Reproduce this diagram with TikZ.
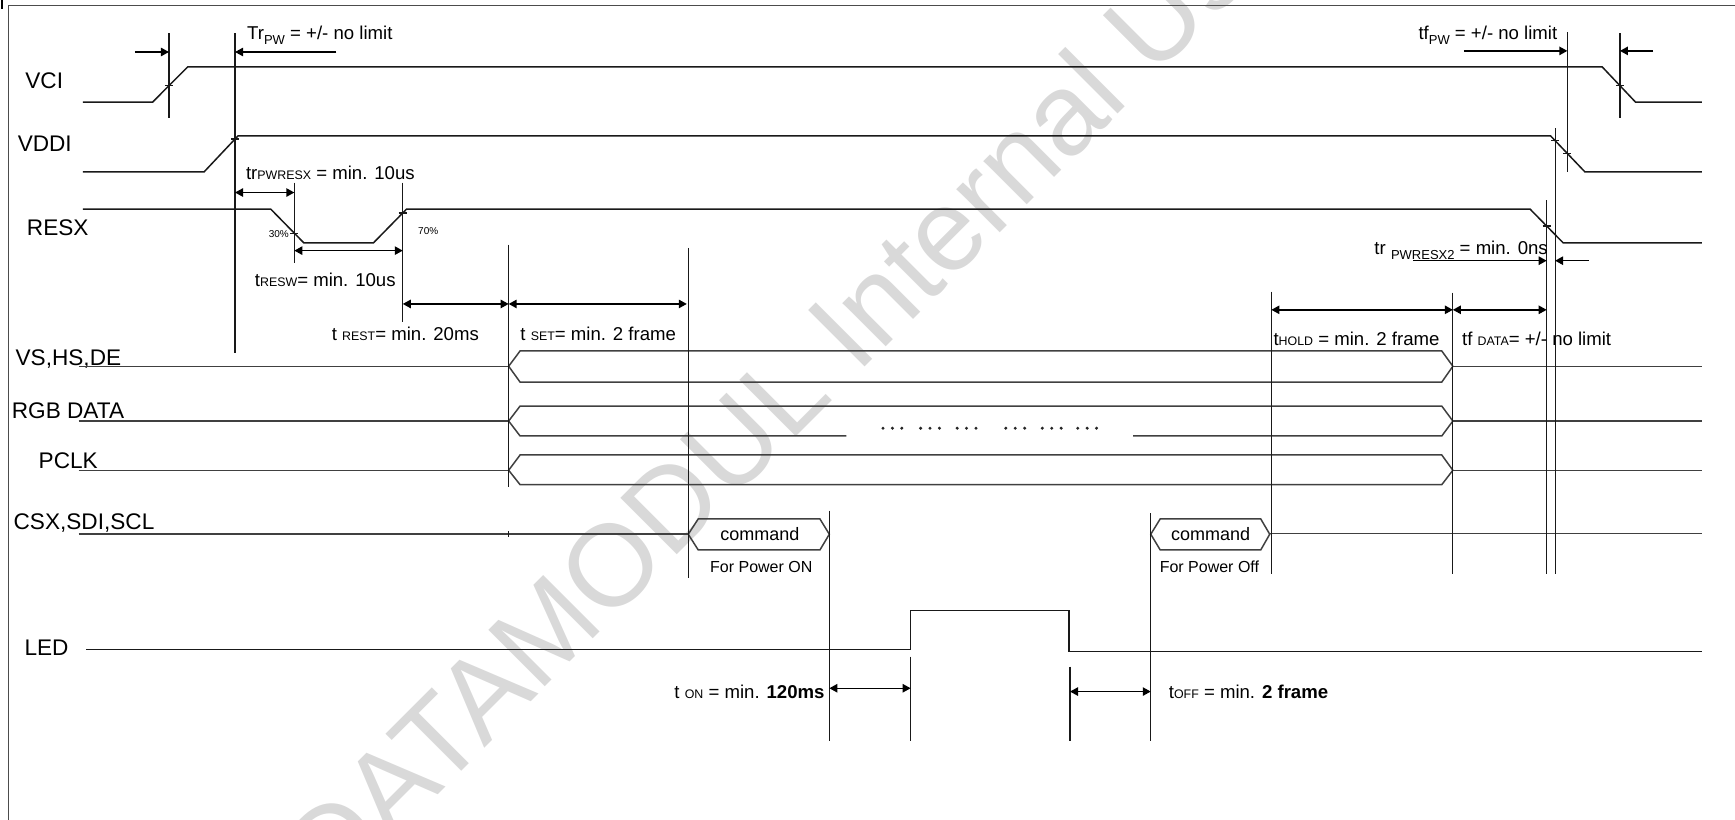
\documentclass[tikz,border=0pt]{standalone}
\usepackage{fontspec}
\setmainfont{Liberation Sans}
\usetikzlibrary{arrows.meta}
\newcommand\smu[1]{{\fontsize{6.2}{6.2}\selectfont #1}}
\newcommand\lsub[1]{\raisebox{-0.5ex}{\fontsize{6.5}{6.5}\selectfont #1}}
\begin{document}
\begin{tikzpicture}[x=0.5533pt,y=-0.5533pt,
  wave/.style={line width=0.75pt, black!90, line join=miter},
  busl/.style={line width=0.75pt, black!75},
  vln/.style={line width=0.6pt, black!90},
  tk/.style={line width=0.6pt, black!90},
  dimarr/.style={line width=0.7pt, {Triangle[length=4pt,width=4.2pt]}-{Triangle[length=4pt,width=4.2pt]}},
  onearr/.style={line width=0.7pt, -{Triangle[length=4pt,width=4.2pt]}},
  lbl/.style={font=\fontsize{11.3}{13}\selectfont, anchor=base west, inner sep=0pt},
  ann/.style={font=\fontsize{9.3}{11}\selectfont, anchor=base west, inner sep=0pt},
  anr/.style={font=\fontsize{9.3}{11}\selectfont, anchor=base east, inner sep=0pt},
  pct/.style={font=\fontsize{5}{5}\selectfont, inner sep=0pt},
  cmd/.style={font=\fontsize{9}{10}\selectfont, inner sep=0pt},
  cmdsub/.style={font=\fontsize{8}{9}\selectfont, inner sep=0pt},
  dotm/.style={fill=black!85, draw=none},
]
\useasboundingbox (0,0) rectangle (1568,741);
% watermark
\node[rotate=45, font=\fontsize{58}{58}\selectfont, text=black!15, inner sep=0pt] (wm) at (711,350) {DATAMODUL Internal Use};
% frame
\draw[line width=0.7pt, black!70] (7.5,741) -- (7.5,5.1) -- (1568,5.1);
\draw[line width=1pt] (1.5,0) -- (1.5,8);

% signal labels
\node[lbl] (lvci) at (22.6,80.3) {VCI};
\node[lbl] (lvddi) at (15.7,136.8) {VDDI};
\node[lbl] (lresx) at (24,213.1) {RESX};
\node[lbl] (lvs) at (13.8,330.3) {VS,HS,DE};
\node[lbl] (lrgb) at (10.4,378.3) {RGB DATA};
\node[lbl] (lpclk) at (34.6,423) {PCLK};
\node[lbl] (lcsx) at (12,478.2) {CSX,SDI,SCL};
\node[lbl] (lled) at (21.8,592.3) {LED};

% waveforms
\draw[wave] (75,92.2) -- (138,92.2) -- (169.6,60.5) -- (1448,60.5) -- (1478,92.2) -- (1538,92.2);
\draw[wave] (75,155.4) -- (184.4,155.4) -- (215,122.9) -- (1401.4,122.9) -- (1432.4,155.4) -- (1538,155.4);
\draw[wave] (75,188.9) -- (244.6,188.9) -- (274.7,219.6) -- (337.4,219.6) -- (367.5,188.9) -- (1382.7,188.9) -- (1412.8,219.6) -- (1538,219.6);

% buses
\draw[busl] (71,331) -- (459.7,331);
\draw[busl] (459.7,331) -- (470,317.2) -- (1303,317.2) -- (1313,331) -- (1303,345.3) -- (470,345.3) -- cycle;
\draw[busl] (1313,331) -- (1538,331);

\draw[busl] (71,380.5) -- (459.7,380.5);
\draw[busl] (459.7,380.5) -- (470,367) -- (1303,367) -- (1313,380.5);
\draw[busl] (459.7,380.5) -- (470,394) -- (765,394);
\draw[busl] (1024,394) -- (1303,394) -- (1313,380.5);
\draw[busl] (1313,380.5) -- (1538,380.5);

\draw[busl] (71,425) -- (459.7,425);
\draw[busl] (459.7,425) -- (470,411.2) -- (1303,411.2) -- (1313,425) -- (1303,438) -- (470,438) -- cycle;
\draw[busl] (1313,425) -- (1538,425);

% dots in RGB data
\foreach \g in {796,830,863,907,940,972}{
  \foreach \d in {2,10.5,19}{
    \fill[dotm] (\g+\d,387) circle[radius=1.5];
  }
}

% CSX line and command boxes
\draw[busl] (71,482.8) -- (622,482.8);
\draw[tk] (459.7,480) -- (459.7,485.5);
\draw[busl] (622,482.8) -- (631,469) -- (741,469) -- (749.5,482.8) -- (741,497) -- (631,497) -- cycle;
\node[cmd] (cmd1) at (686.8,483) {command};
\node[cmdsub] (pon) at (688,512) {For Power ON};
\draw[busl] (1040,482.8) -- (1048.5,469) -- (1139.4,469) -- (1147.5,482.8) -- (1139.4,497) -- (1048.5,497) -- cycle;
\node[cmd] (cmd2) at (1094,483) {command};
\node[cmdsub] (poff) at (1093,512) {For Power Off};
\draw[busl] (1147.5,482.3) -- (1538,482.3);

% LED
\draw[wave] (77.8,586.8) -- (823,586.8) -- (823,551.9) -- (966,551.9) -- (966,589) -- (1538,589);

% vertical marker lines
\draw[vln] (152.7,30) -- (152.7,107);
\draw[vln] (212.4,30) -- (212.4,319);
\draw[vln] (266,165) -- (266,238);
\draw[vln] (364,165) -- (364,291);
\draw[vln] (459.7,221) -- (459.7,440);
\draw[vln] (622,224) -- (622,522.7);
\draw[vln] (749.5,461.5) -- (749.5,670);
\draw[vln] (823,593.5) -- (823,670);
\draw[vln] (967,602.5) -- (967,670);
\draw[vln] (1040,463.7) -- (1040,670);
\draw[vln] (1149,263.6) -- (1149,519);
\draw[vln] (1313,264.5) -- (1313,519);
\draw[vln] (1397.8,180.8) -- (1397.8,519);
\draw[vln] (1405.4,115.8) -- (1405.4,519);
\draw[vln] (1416.5,29) -- (1416.5,155.4);
\draw[vln] (1464,30) -- (1464,107);

% crossing ticks
\draw[tk] (149,77.5) -- (156.4,77.5);
\draw[tk] (208.7,125.7) -- (216.1,125.7);
\draw[tk] (262.3,210.7) -- (269.7,210.7);
\draw[tk] (360.3,192.5) -- (367.7,192.5);
\draw[tk] (1460.3,77.4) -- (1467.7,77.4);
\draw[tk] (1401.7,127.1) -- (1409.1,127.1);
\draw[tk] (1412.8,138.7) -- (1420.2,138.7);
\draw[tk] (1394.1,204.3) -- (1401.5,204.3);

% timing arrows
\coordinate (a1s) at (122,47);
\coordinate (a2s) at (304,47);
\draw[onearr] (a1s) -- (152.7,47);
\draw[onearr] (a2s) -- (212.4,47);
\draw[dimarr] (212.4,174) -- (266,174);
\draw[dimarr] (266,226.5) -- (364,226.5);
\draw[dimarr] (364,274.7) -- (459.7,274.7);
\draw[dimarr] (459.7,274.7) -- (620.7,274.7);
\draw[onearr] (1323,46) -- (1416.5,46);
\draw[onearr] (1494,46) -- (1464,46);
\draw[onearr] (1277,235.6) -- (1397.8,235.6);
\draw[onearr] (1436,235.6) -- (1405.4,235.6);
\draw[dimarr] (1149,280) -- (1313,280);
\draw[dimarr] (1313,280) -- (1397.8,280);
\draw[dimarr] (749.5,622) -- (823,622);
\draw[dimarr] (967,625) -- (1040,625);

% annotations
\node[ann] (ttrpw) at (223,36) {Tr\lsub{PW} = +/- no limit};
\node[ann] (ttfpw) at (1281.6,36) {tf\lsub{PW} = +/- no limit};
\node[ann] (ttrpwresx) at (222,162.6) {tr\smu{PWRESX} = min. 10us};
\node[ann] (ttresw) at (230,259) {t\smu{RESW}= min. 10us};
\node[ann] (ttrest) at (299.6,308) {t \smu{REST}= min. 20ms};
\node[ann] (ttset) at (470,308) {t \smu{SET}= min. 2 frame};
\node[ann] (tthold) at (1150.6,311.8) {t\smu{HOLD} = min. 2 frame};
\node[ann] (ttfdata) at (1321,311.8) {tf \smu{DATA}= +/- no limit};
\node[ann] (ttrpw2) at (1241.8,230) {tr \lsub{PWRESX2} = min. 0ns};
\node[anr] (tton) at (745.5,631) {t \smu{ON} = min. \textbf{120ms}};
\node[ann] (ttoff) at (1056,631) {t\smu{OFF} = min. \textbf{2 frame}};
\node[pct] (p30) at (252,211.5) {30\%};
\node[pct] (p70) at (387,209) {70\%};
\end{tikzpicture}
\end{document}
